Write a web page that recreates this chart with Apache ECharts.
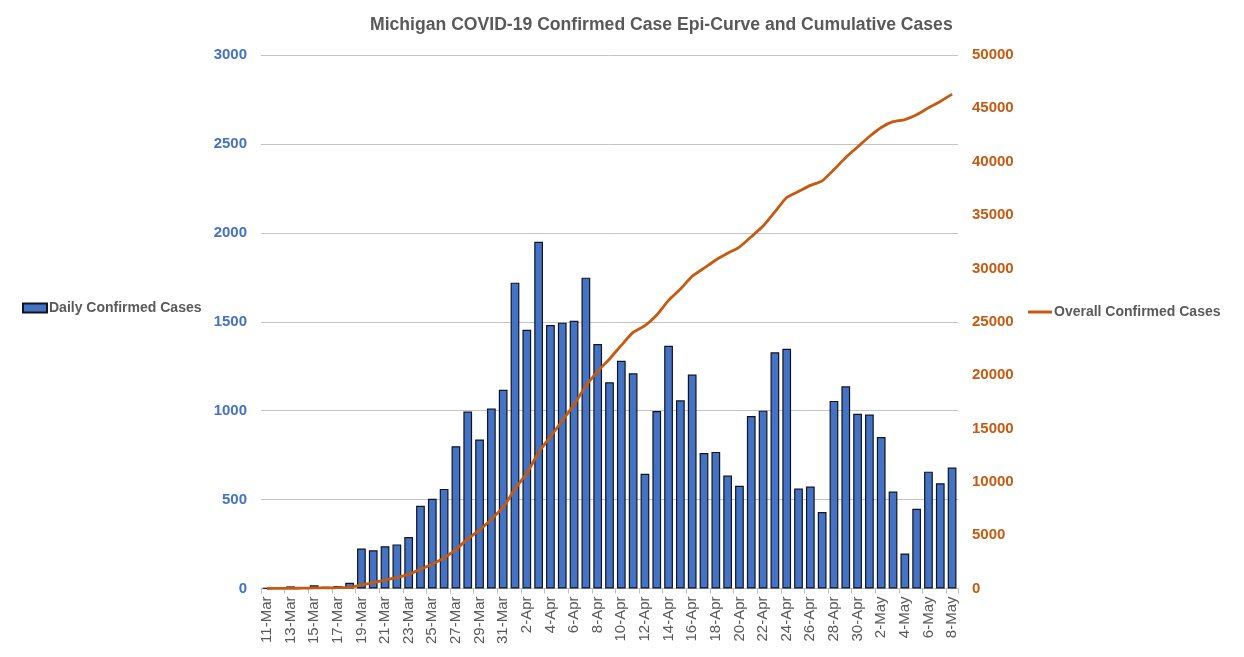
<!DOCTYPE html>
<html>
<head>
<meta charset="utf-8">
<title>Michigan COVID-19</title>
<script src="https://cdn.jsdelivr.net/npm/echarts@6/dist/echarts.min.js"></script>
<style>
    html, body { margin: 0; padding: 0; background: #fff; }
    #chart { width: 1244px; height: 657px; }
</style>
</head>
<body>
<div id="chart"></div>
<script>
    var days = ['11-Mar','12-Mar','13-Mar','14-Mar','15-Mar','16-Mar','17-Mar','18-Mar','19-Mar','20-Mar',
        '21-Mar','22-Mar','23-Mar','24-Mar','25-Mar','26-Mar','27-Mar','28-Mar','29-Mar','30-Mar','31-Mar',
        '1-Apr','2-Apr','3-Apr','4-Apr','5-Apr','6-Apr','7-Apr','8-Apr','9-Apr','10-Apr','11-Apr','12-Apr',
        '13-Apr','14-Apr','15-Apr','16-Apr','17-Apr','18-Apr','19-Apr','20-Apr','21-Apr','22-Apr','23-Apr',
        '24-Apr','25-Apr','26-Apr','27-Apr','28-Apr','29-Apr','30-Apr','1-May','2-May','3-May','4-May',
        '5-May','6-May','7-May','8-May'];
    var dailyCases = [2,7,12,8,18,10,14,32,225,215,238,248,290,465,505,560,800,995,838,1012,1118,
        1720,1455,1950,1482,1495,1505,1748,1375,1160,1280,1210,645,998,1365,1058,1203,762,768,635,578,
        970,1000,1328,1348,562,573,430,1055,1137,982,978,852,545,197,448,657,592,680];
    var overallCases = [2,10,20,30,50,60,75,110,335,550,790,1040,1330,1790,2300,2860,3660,4650,5490,6500,7620,
        9340,10800,12750,14230,15720,17230,18980,20350,21510,22790,24000,24640,25640,27000,28060,29260,30020,30790,31420,32000,
        32970,33970,35300,36650,37210,37780,38210,39260,40400,41380,42360,43210,43750,43950,44400,45050,45650,46330];

    var grey = '#595959', blue = '#4472C4', orange = '#C55A11';
    var font = '"Liberation Sans", Arial, sans-serif';
    var plainNumber = function (v) { return String(v); };

    var myChart = echarts.init(document.getElementById('chart'));
    var option = {
        animation: false,
        backgroundColor: '#fff',
        textStyle: { fontFamily: font },
        title: {
            text: 'Michigan COVID-19 Confirmed Case Epi-Curve and Cumulative Cases',
            left: 365,
            top: 11,
            textStyle: { color: grey, fontSize: 17.6, fontWeight: 'bold', fontFamily: font }
        },
        legend: [
            {
                data: [{ name: 'Daily Confirmed Cases', icon: 'rect' }],
                left: 17,
                top: 296,
                itemWidth: 24,
                itemHeight: 9,
                textStyle: { color: grey, fontSize: 14, fontWeight: 'bold', padding: [0, 0, 0, -3] }
            },
            {
                data: [{ name: 'Overall Confirmed Cases', icon: 'rect', itemStyle: { color: orange, borderWidth: 0 } }],
                left: 1023,
                top: 300,
                itemWidth: 24,
                itemHeight: 3,
                textStyle: { color: grey, fontSize: 14, fontWeight: 'bold', padding: [0, 0, 0, -3] }
            }
        ],
        grid: { left: 261, right: 286, top: 55, bottom: 68.5 },
        xAxis: [
            {
                type: 'category',
                data: days,
                axisLine: { lineStyle: { color: '#BFBFBF' } },
                axisTick: { show: true, interval: 1, length: 5, alignWithLabel: false, lineStyle: { color: '#BFBFBF' } },
                axisLabel: { interval: 1, rotate: 90, color: grey, fontSize: 15, margin: 8 }
            }
        ],
        yAxis: [
            {
                type: 'value',
                min: 0,
                max: 3000,
                interval: 500,
                axisLine: { show: false },
                axisTick: { show: false },
                axisLabel: { color: blue, fontSize: 15, fontWeight: 'bold', margin: 14, formatter: plainNumber },
                splitLine: { lineStyle: { color: '#C4C4C4', width: 1 } }
            },
            {
                type: 'value',
                min: 0,
                max: 50000,
                interval: 5000,
                axisLine: { show: false },
                axisTick: { show: false },
                axisLabel: { color: orange, fontSize: 15, fontWeight: 'bold', margin: 14, formatter: plainNumber },
                splitLine: { show: false }
            }
        ],
        series: [
            {
                name: 'Daily Confirmed Cases',
                type: 'bar',
                data: dailyCases,
                barWidth: '74%',
                itemStyle: { color: blue, borderColor: '#10151f', borderWidth: 1.2 }
            },
            {
                name: 'Overall Confirmed Cases',
                type: 'line',
                yAxisIndex: 1,
                data: overallCases,
                smooth: 0.2,
                showSymbol: false,
                symbol: 'none',
                lineStyle: { color: orange, width: 2.8 },
                itemStyle: { color: orange }
            }
        ]
    };
    myChart.setOption(option);
</script>
</body>
</html>
